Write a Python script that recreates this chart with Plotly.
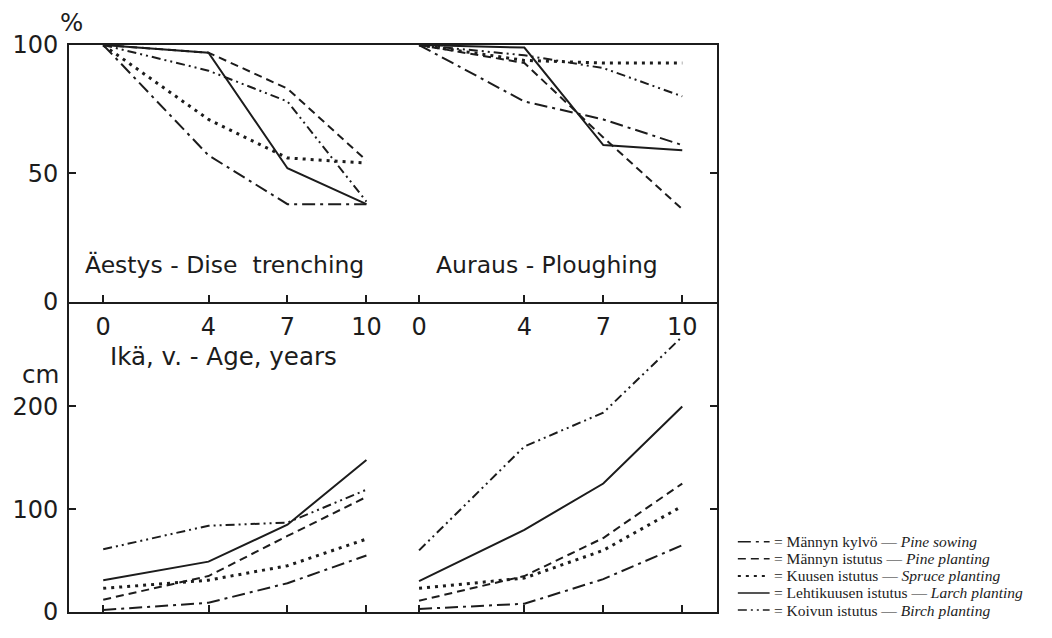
import plotly.graph_objects as go

# Stand age (years) at each measurement
ages = [0, 4, 7, 10]
# The ploughing panel is drawn on the same axis, shifted right by this many years
ploughing_shift = 12

# Series order: pine sowing, pine planting, spruce, larch, birch
names_fi = ["Männyn kylvö", "Männyn istutus", "Kuusen istutus",
            "Lehtikuusen istutus", "Koivun istutus"]
names_en = ["Pine sowing", "Pine planting", "Spruce planting",
            "Larch planting", "Birch planting"]

# Survival, % (disc trenching / ploughing)
survival_trenching = [
    [100, 57, 38, 38],
    [100, 97, 83, 55],
    [100, 71, 56, 54],
    [100, 97, 52, 38],
    [100, 90, 78, 39],
]
survival_ploughing = [
    [100, 78, 71, 61],
    [100, 93, 64, 36],
    [100, 94, 93, 93],
    [100, 99, 61, 59],
    [100, 96, 91, 80],
]

# Mean height, cm (disc trenching / ploughing)
height_trenching = [
    [2, 9, 28, 55],
    [12, 35, 74, 112],
    [23, 31, 45, 71],
    [31, 49, 85, 148],
    [61, 84, 87, 119],
]
height_ploughing = [
    [3, 8, 32, 65],
    [11, 35, 72, 125],
    [23, 33, 60, 103],
    [30, 80, 125, 200],
    [60, 161, 194, 268],
]

age_ticks = [0, 4, 7, 10]

ink = "#1c1c1c"
dashes = ["13px,5px,3px,5px", "8px,5px", "3px,5px", "solid", "9px,4px,2px,4px,2px,4px"]
widths = [2, 2, 3, 2, 2]

label_font = "DejaVu Sans, Liberation Sans, sans-serif"
legend_font = "Liberation Serif, Times New Roman, serif"

W, H = 1052, 638
M_L, M_R, M_T, M_B = 64, 335, 45, 12
PW, PH = W - M_L - M_R, H - M_T - M_B
x_range = [-1.3, 23.32]


def px_to_paper(px, py):
    """Convert a pixel position on the page to paper coordinates."""
    return (px - M_L) / PW, (H - M_B - py) / PH


fig = go.Figure()

x_both = ages + [None] + [a + ploughing_shift for a in ages]
for i in range(len(names_fi)):
    line = dict(color=ink, width=widths[i], dash=dashes[i])
    fig.add_trace(go.Scatter(
        x=x_both, y=survival_trenching[i] + [None] + survival_ploughing[i],
        xaxis="x2", yaxis="y2", mode="lines", line=line,
        showlegend=False, hoverinfo="skip"))
    fig.add_trace(go.Scatter(
        x=x_both, y=height_trenching[i] + [None] + height_ploughing[i],
        xaxis="x", yaxis="y", mode="lines", line=line,
        showlegend=False, hoverinfo="skip"))

tickvals = age_ticks + [a + ploughing_shift for a in age_ticks]
ticktext = [str(a) for a in age_ticks] * 2

common_axis = dict(showline=True, linecolor=ink, linewidth=2, showgrid=False,
                   zeroline=False, ticks="inside", tickcolor=ink, tickwidth=1.5,
                   ticklen=7)
tick_font = dict(family=label_font, size=24, color=ink)

split = 318 / PH  # fraction of plot height taken by the height panel

fig.update_layout(
    width=W, height=H,
    margin=dict(l=M_L, r=M_R, t=M_T, b=M_B),
    paper_bgcolor="white", plot_bgcolor="white",
    showlegend=False,
    xaxis=dict(domain=[0, 1], anchor="y", range=x_range,
               tickvals=tickvals, showticklabels=False, mirror=False, **common_axis),
    xaxis2=dict(domain=[0, 1], anchor="y2", matches="x", range=x_range,
                tickvals=tickvals, ticktext=ticktext, tickfont=tick_font,
                ticklabelstandoff=3, mirror=True, **common_axis),
    yaxis=dict(domain=[0, split], anchor="x", range=[0, 302],
               tickvals=[0, 100, 200], tickfont=tick_font, ticklabelstandoff=4,
               mirror="ticks", **common_axis),
    yaxis2=dict(domain=[split, 1], anchor="x2", range=[0, 100],
                tickvals=[0, 50, 100], tickfont=tick_font, ticklabelstandoff=4,
                mirror="ticks", **common_axis),
)

panel_font = dict(family=label_font, size=23.5, color=ink)
fig.add_annotation(text="Äestys - Dise\u00a0\u00a0trenching", xref="x2", yref="y2",
                   x=-0.75, y=14.3, xanchor="left", yanchor="middle",
                   showarrow=False, font=panel_font)
fig.add_annotation(text="Auraus - Ploughing", xref="x2", yref="y2",
                   x=12.55, y=14.3, xanchor="left", yanchor="middle",
                   showarrow=False, font=panel_font)

text_font = dict(family=label_font, size=24.5, color=ink)
fig.add_annotation(text="Ikä, v. - Age, years", xref="x", yref="y",
                   x=0.2, y=249, xanchor="left", yanchor="middle",
                   showarrow=False, font=text_font)
cx, cy = px_to_paper(35, 383)
fig.add_annotation(text="cm", xref="paper", yref="paper",
                   x=cx, y=cy, xanchor="center", yanchor="middle",
                   showarrow=False, font=text_font)
px_, py_ = px_to_paper(67, 22)
fig.add_annotation(text="%", xref="paper", yref="paper",
                   x=px_, y=py_, xanchor="center", yanchor="middle",
                   showarrow=False, font=text_font)

# Key: a short line sample for each series followed by its name
key_rows = [554, 571.5, 589, 606.5, 624]
for i, row in enumerate(key_rows):
    x0, y0 = px_to_paper(738, row)
    x1, _ = px_to_paper(770, row)
    fig.add_shape(type="line", xref="paper", yref="paper",
                  x0=x0, x1=x1, y0=y0, y1=y0,
                  line=dict(color=ink, width=min(widths[i], 2.5) - 0.5, dash=dashes[i]))
    tx, ty = px_to_paper(772, row)
    fig.add_annotation(text=f"= {names_fi[i]} — <i>{names_en[i]}</i>",
                       xref="paper", yref="paper", x=tx, y=ty,
                       xanchor="left", yanchor="middle", showarrow=False,
                       font=dict(family=legend_font, size=15.5, color=ink))

fig.write_html("out.html")
